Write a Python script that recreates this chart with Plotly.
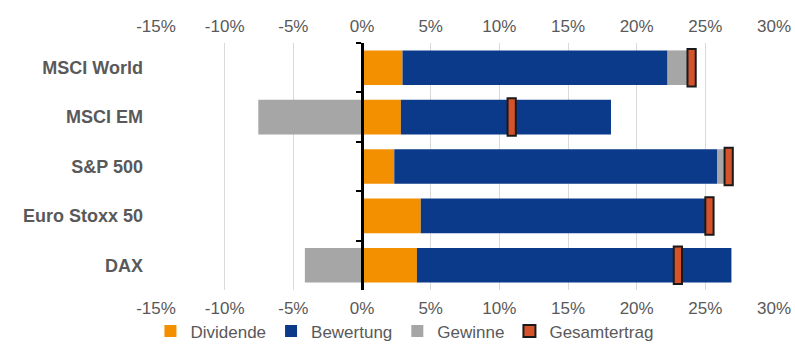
import plotly.graph_objects as go

categories = ["MSCI World", "MSCI EM", "S&P 500", "Euro Stoxx 50", "DAX"]
dividende = [2.95, 2.83, 2.35, 4.28, 4.0]
bewertung = [19.3, 15.3, 23.5, 20.7, 22.9]
gewinne = [1.5, -7.55, 0.8, 0.3, -4.16]
gesamtertrag = [24.0, 10.9, 26.7, 25.3, 23.0]

tick_vals = [-15, -10, -5, 0, 5, 10, 15, 20, 25, 30]
tick_labels = ["-15%", "-10%", "-5%", "0%", "5%", "10%", "15%", "20%", "25%", "30%"]

x_range = [-15, 30]
marker_half = 0.3

FONT = "Arial, Liberation Sans, sans-serif"
GREY_TXT = "#595959"

fig = go.Figure()
fig.add_trace(go.Bar(y=categories, x=dividende, orientation="h", name="Dividende",
                     marker=dict(color="#F39000", line=dict(width=0))))
fig.add_trace(go.Bar(y=categories, x=bewertung, orientation="h", name="Bewertung",
                     marker=dict(color="#0B3A8B", line=dict(width=0))))
fig.add_trace(go.Bar(y=categories, x=gewinne, orientation="h", name="Gewinne",
                     marker=dict(color="#A6A6A6", line=dict(width=0))))
fig.add_trace(go.Bar(y=categories, x=[2 * marker_half] * len(categories),
                     base=[v - marker_half for v in gesamtertrag],
                     orientation="h", name="Gesamtertrag", width=0.76,
                     xaxis="x2", yaxis="y2",
                     marker=dict(color="#D4532B", line=dict(color="#1a1a1a", width=2))))

zero_pos = (0 - x_range[0]) / (x_range[1] - x_range[0])

fig.update_layout(
    width=795, height=345,
    margin=dict(l=156, r=21, t=43, b=55, autoexpand=False),
    paper_bgcolor="white", plot_bgcolor="white",
    barmode="relative", bargap=0.3,
    font=dict(family=FONT, color=GREY_TXT),
    showlegend=True,
    legend=dict(orientation="h", x=0.402, xanchor="center", y=-0.168, yanchor="middle",
                font=dict(size=17, color=GREY_TXT), traceorder="normal",
                itemwidth=30, tracegroupgap=0, bgcolor="rgba(0,0,0,0)"),
    xaxis=dict(range=x_range, tickvals=tick_vals, ticktext=tick_labels,
               showgrid=True, gridcolor="#D9D9D9", gridwidth=1,
               zeroline=False, showline=False, ticks="",
               tickfont=dict(size=17, color=GREY_TXT), side="bottom",
               ticklabelstandoff=6, automargin=False),
    xaxis2=dict(range=x_range, tickvals=tick_vals, ticktext=tick_labels,
                overlaying="x", matches="x", side="top", anchor="y2",
                showgrid=False, zeroline=False, showline=False, ticks="",
                tickfont=dict(size=17, color=GREY_TXT),
                ticklabelstandoff=7, automargin=False),
    yaxis=dict(type="category", categoryarray=categories, autorange="reversed",
               showgrid=False, zeroline=False, showline=False, ticks="",
               tickfont=dict(size=18, color=GREY_TXT, weight="bold"),
               ticklabelstandoff=12, automargin=False),
    yaxis2=dict(type="category", categoryarray=categories, autorange="reversed",
                overlaying="y", anchor="free", position=zero_pos, side="left",
                showgrid=False, zeroline=False, showticklabels=False,
                showline=True, linecolor="black", linewidth=3,
                ticks="outside", tickson="boundaries", ticklen=5, tickwidth=2,
                tickcolor="black", automargin=False),
)

fig.write_html("out.html")
